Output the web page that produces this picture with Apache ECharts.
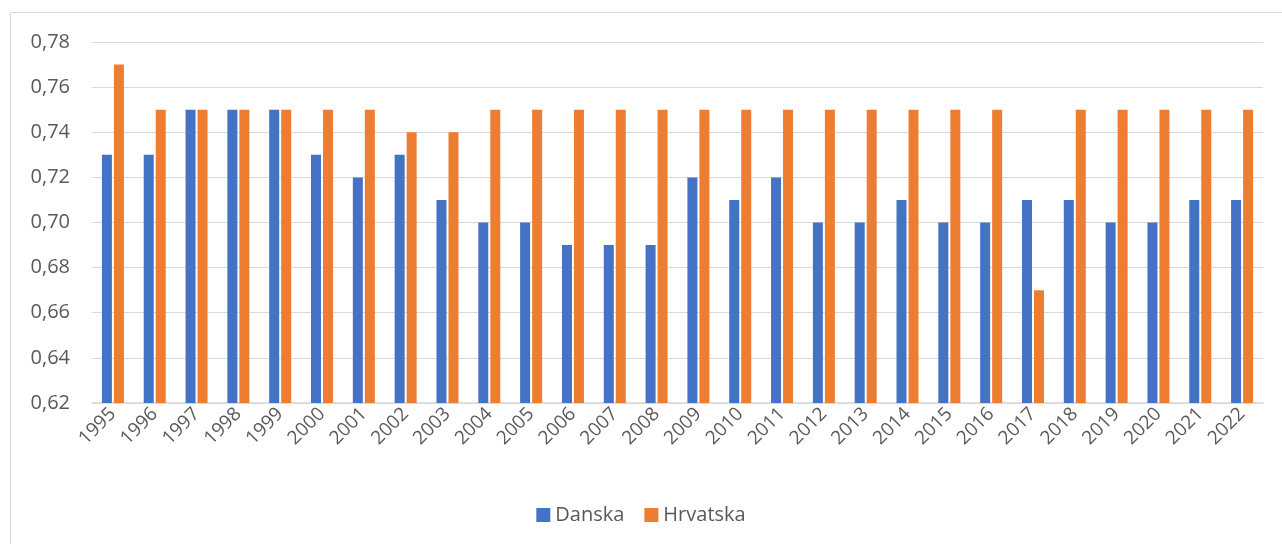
<!DOCTYPE html>
<html>
<head>
<meta charset="utf-8">
<script src="https://cdn.jsdelivr.net/npm/echarts@6/dist/echarts.min.js"></script>
<style>
  html, body { margin: 0; padding: 0; background: #fff; }
  #bar { width: 1282px; height: 544px; }
</style>
</head>
<body>
<div id="bar"></div>
<script>
var years = ['1995', '1996', '1997', '1998', '1999', '2000', '2001', '2002', '2003', '2004',
    '2005', '2006', '2007', '2008', '2009', '2010', '2011', '2012', '2013', '2014',
    '2015', '2016', '2017', '2018', '2019', '2020', '2021', '2022'];
var danska = [0.73, 0.73, 0.75, 0.75, 0.75, 0.73, 0.72, 0.73, 0.71, 0.70,
    0.70, 0.69, 0.69, 0.69, 0.72, 0.71, 0.72, 0.70, 0.70, 0.71,
    0.70, 0.70, 0.71, 0.71, 0.70, 0.70, 0.71, 0.71];
var hrvatska = [0.77, 0.75, 0.75, 0.75, 0.75, 0.75, 0.75, 0.74, 0.74, 0.75,
    0.75, 0.75, 0.75, 0.75, 0.75, 0.75, 0.75, 0.75, 0.75, 0.75,
    0.75, 0.75, 0.67, 0.75, 0.75, 0.75, 0.75, 0.75];
var seriesNames = ['Danska', 'Hrvatska'];

var dom = document.getElementById("bar");
var myChart = echarts.init(dom);
var font = 'Open Sans';

option = {
    animation: false,
    color: ['#4472C4', '#ED7D31'],
    // okvir grafikona
    graphic: [{
        type: 'rect',
        shape: { x: 10.5, y: 12.5, width: 1290, height: 560 },
        style: { fill: 'none', stroke: '#D9D9D9', lineWidth: 1 }
    }],
    legend: {
        bottom: 14,
        left: 'center',
        itemWidth: 14,
        itemHeight: 14,
        itemGap: 20,
        icon: 'rect',
        textStyle: { color: '#595959', fontSize: 20, fontFamily: font },
        data: seriesNames
    },
    grid: {
        left: 92,
        right: 19,
        top: 42,
        bottom: 141
    },
    xAxis: {
        type: 'category',
        data: years,
        axisTick: { show: false },
        axisLine: { lineStyle: { color: '#D9D9D9', width: 1.5 } },
        axisLabel: {
            rotate: 45,
            interval: 0,
            color: '#595959',
            fontSize: 19,
            fontFamily: font,
            margin: 8
        }
    },
    yAxis: {
        type: 'value',
        min: 0.62,
        max: 0.78,
        interval: 0.02,
        axisLine: { show: false },
        axisTick: { show: false },
        splitLine: { lineStyle: { color: '#D9D9D9', width: 1.2 } },
        axisLabel: {
            color: '#595959',
            fontSize: 20,
            fontFamily: font,
            margin: 22,
            formatter: function (v) { return v.toFixed(2).replace('.', ','); }
        }
    },
    series: [
        {
            name: seriesNames[0],
            type: 'bar',
            barWidth: 10,
            barGap: '20%',
            data: danska
        },
        {
            name: seriesNames[1],
            type: 'bar',
            barWidth: 10,
            barGap: '20%',
            data: hrvatska
        }
    ]
};
if (option && typeof option === "object") {
    myChart.setOption(option, true);
}
</script>
</body>
</html>
